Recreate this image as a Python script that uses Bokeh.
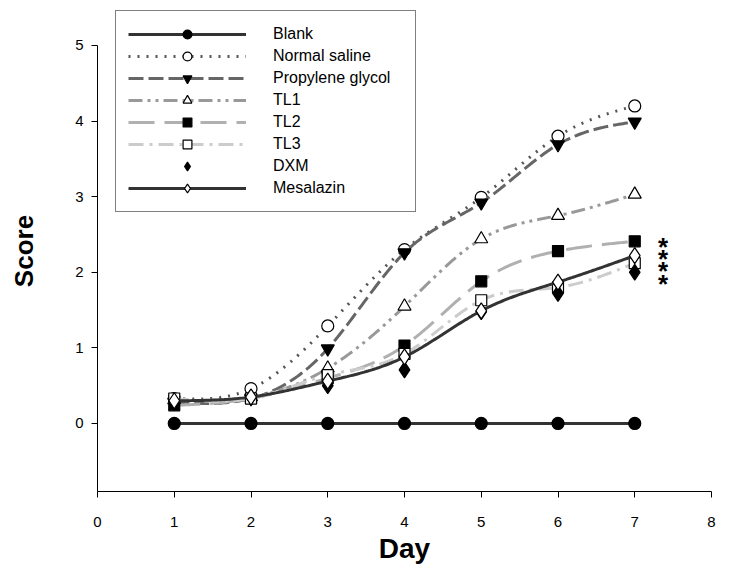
import numpy as np
from bokeh.plotting import figure
from bokeh.models import (Range1d, FixedTicker, Legend, LegendItem, ColumnDataSource)
from bokeh.embed import file_html
from bokeh.resources import INLINE
from bokeh.core.properties import value

# ---------------- data ----------------
days = [1, 2, 3, 4, 5, 6, 7]
blank = [0, 0, 0, 0, 0, 0, 0]
normal_saline = [0.33, 0.46, 1.29, 2.30, 2.99, 3.80, 4.20]
propylene_glycol = [0.28, 0.33, 0.99, 2.26, 2.92, 3.69, 3.99]
tl1 = [0.31, 0.35, 0.73, 1.55, 2.44, 2.75, 3.03]
tl2 = [0.24, 0.33, 0.60, 1.03, 1.88, 2.28, 2.41]
tl3 = [0.33, 0.33, 0.64, 0.92, 1.63, 1.80, 2.12]
dxm = [0.28, 0.35, 0.50, 0.71, 1.48, 1.72, 2.00]
mesalazin = [0.30, 0.35, 0.56, 0.88, 1.49, 1.87, 2.22]

x_ticks = [0, 1, 2, 3, 4, 5, 6, 7, 8]
y_ticks = [0, 1, 2, 3, 4, 5]

star_x = [7.37, 7.37, 7.37, 7.37]
star_y = [2.42, 2.25, 2.09, 1.93]
star_text = ["*", "*", "*", "*"]


def smooth(xs, ys, n=40):
    """Natural cubic spline through the points (for drawing the curve)."""
    xs = np.asarray(xs, float)
    ys = np.asarray(ys, float)
    k = len(xs)
    h = np.diff(xs)
    A = np.zeros((k, k))
    b = np.zeros(k)
    A[0, 0] = 1
    A[-1, -1] = 1
    for i in range(1, k - 1):
        A[i, i - 1] = h[i - 1]
        A[i, i] = 2 * (h[i - 1] + h[i])
        A[i, i + 1] = h[i]
        b[i] = 6 * ((ys[i + 1] - ys[i]) / h[i] - (ys[i] - ys[i - 1]) / h[i - 1])
    M = np.linalg.solve(A, b)
    ox, oy = [], []
    for i in range(k - 1):
        t = np.linspace(xs[i], xs[i + 1], n, endpoint=(i == k - 2))
        a = xs[i + 1] - t
        c = t - xs[i]
        y = (M[i] * a ** 3 / (6 * h[i]) + M[i + 1] * c ** 3 / (6 * h[i])
             + (ys[i] / h[i] - M[i] * h[i] / 6) * a
             + (ys[i + 1] / h[i] - M[i + 1] * h[i] / 6) * c)
        ox.extend(t)
        oy.extend(y)
    return ox, oy


p = figure(width=716, height=567, output_backend="svg", toolbar_location=None,
           x_range=Range1d(0, 8), y_range=Range1d(-0.9, 5.463),
           min_border_left=97, min_border_right=5, min_border_top=10, min_border_bottom=76)
p.outline_line_color = None
p.xgrid.visible = False
p.ygrid.visible = False
p.background_fill_color = "white"

FONT = "Liberation Sans"
for ax in (p.xaxis[0], p.yaxis[0]):
    ax.axis_line_color = "black"
    ax.axis_line_width = 1
    ax.major_tick_line_color = "black"
    ax.major_tick_in = 0
    ax.major_tick_out = 6
    ax.minor_tick_line_color = None
    ax.major_label_text_font = FONT
    ax.major_label_text_font_size = "15px"
    ax.major_label_text_color = "black"
    ax.axis_label_text_font = FONT
    ax.axis_label_text_font_style = "bold"
    ax.axis_label_text_color = "black"

p.xaxis.ticker = FixedTicker(ticks=x_ticks)
p.yaxis.ticker = FixedTicker(ticks=y_ticks)
p.yaxis.bounds = (-0.9, 5)
p.xaxis.axis_label = "Day"
p.yaxis.axis_label = "Score"
p.xaxis.axis_label_text_font_size = "28px"
p.yaxis.axis_label_text_font_size = "26px"
p.xaxis.major_label_standoff = 19
p.yaxis.major_label_standoff = 8
p.xaxis.axis_label_standoff = 3
p.yaxis.axis_label_standoff = 33

series = [
    ("Blank", blank, "#333333", "solid", "circle", "black"),
    ("Normal saline", normal_saline, "#555555", "2 7", "circle", "white"),
    ("Propylene glycol", propylene_glycol, "#666666", "15 5", "inverted_triangle", "black"),
    ("TL1", tl1, "#999999", "14 5 3 5 3 5", "triangle", "white"),
    ("TL2", tl2, "#b0b0b0", "26 10", "square", "black"),
    ("TL3", tl3, "#cccccc", "15 6 3 6", "square", "white"),
    ("DXM", dxm, None, None, "diamond", "black"),
    ("Mesalazin", mesalazin, "#333333", "solid", "diamond", "white"),
]
sizes = {"circle": 12, "inverted_triangle": 13, "triangle": 13, "square": 11, "diamond": 16}

items = []
for name, ys, lc, dash, marker, fill in series:
    rs = []
    if lc is not None:
        sx, sy = smooth(days, ys)
        lr = p.line(sx, sy, line_color=lc, line_width=3, line_dash=dash)
        rs.append(lr)
    src = ColumnDataSource(dict(x=days, y=ys))
    sr = p.scatter("x", "y", source=src, marker=marker, size=sizes[marker],
                   fill_color=fill, line_color="black", line_width=1.2)
    rs.append(sr)
    items.append(LegendItem(label=name, renderers=rs))

p.text(star_x, star_y, text=star_text, text_font=value(FONT), text_font_style="bold",
       text_font_size="26px", text_align="center", text_baseline="middle",
       text_color="black", y_offset=6)

legend = Legend(items=items, location=(18, 279), orientation="vertical")
legend.border_line_color = "black"
legend.border_line_width = 1
legend.background_fill_color = "white"
legend.background_fill_alpha = 1
legend.label_text_font = FONT
legend.label_text_font_size = "16px"
legend.label_text_color = "black"
legend.glyph_width = 118
legend.glyph_height = 22
legend.label_height = 22
legend.spacing = 0
legend.padding = 12
legend.margin = 0
legend.label_standoff = 27
legend.label_width = 130
p.add_layout(legend)

open("out.html", "w").write(file_html(p, INLINE))
